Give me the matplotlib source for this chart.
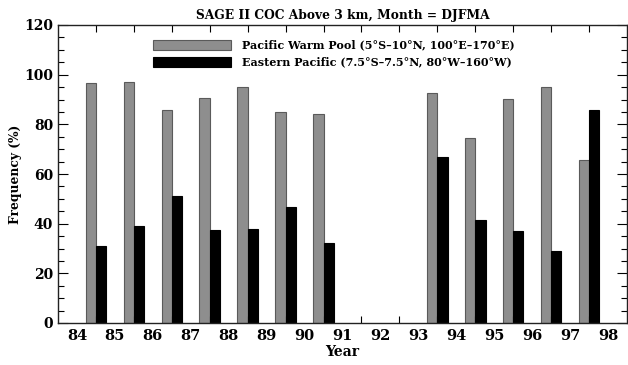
import matplotlib
matplotlib.use("Agg")
import matplotlib.pyplot as plt
import numpy as np
from matplotlib.ticker import MultipleLocator, FixedLocator

years = [84, 85, 86, 87, 88, 89, 90, 93, 94, 95, 96, 97]
warm_pool = [96.6, 97.0, 85.6, 90.7, 94.9, 84.8, 84.0, 92.5, 74.5, 90.1, 95.0, 65.8]
eastern = [31.1, 39.2, 51.1, 37.6, 38.0, 46.6, 32.3, 66.7, 41.3, 37.0, 29.0, 85.9]
tick_years = list(range(84, 99))
label_warm = "Pacific Warm Pool (5°S–10°N, 100°E–170°E)"
label_east = "Eastern Pacific (7.5°S–7.5°N, 80°W–160°W)"
title = "SAGE II COC Above 3 km, Month = DJFMA"

plt.rcParams['font.family'] = ['DejaVu Serif']
plt.rcParams['font.weight'] = 'bold'

W, H = 628, 365
fig = plt.figure(figsize=(W / 100, H / 100), dpi=100)
ax = fig.add_axes([58 / W, 1 - 323 / H, (627 - 58) / W, (323 - 25) / H])

w = 0.27
x = np.array(years) + 0.5
ax.bar(x - w / 2, warm_pool, width=w, color='#8e8e8e', edgecolor='#5a5a5a', linewidth=0.8, label=label_warm)
ax.bar(x + w / 2, eastern, width=w, color='black', edgecolor='black', linewidth=0.8, label=label_east)

ax.set_xlim(83.5, 98.5)
ax.set_ylim(0, 120)

# x: labels at integer years, ticks at half years
ax.set_xticks(tick_years)
ax.set_xticklabels([str(t) for t in tick_years], fontsize=10.5, fontweight='bold')
ax.tick_params(axis='x', which='major', length=0, pad=4)
ax.xaxis.set_minor_locator(FixedLocator([t + 0.5 for t in tick_years[:-1]]))
ax.tick_params(axis='x', which='minor', direction='in', length=5, top=True, bottom=True, width=0.8)

ax.yaxis.set_major_locator(MultipleLocator(20))
ax.yaxis.set_minor_locator(MultipleLocator(5))
ax.tick_params(axis='y', which='major', direction='in', length=7, left=True, right=True, labelsize=10, width=0.8)
ax.tick_params(axis='y', which='minor', direction='in', length=4, left=True, right=True, width=0.8)
for lbl in ax.get_yticklabels():
    lbl.set_fontweight('bold')

for s in ax.spines.values():
    s.set_linewidth(1.0)
    s.set_color('#222222')

ax.set_xlabel("Year", fontsize=10, fontweight='bold', labelpad=2)
ax.set_ylabel("Frequency (%)", fontsize=8.8, fontweight='bold')
ax.yaxis.set_label_coords(-0.063, 0.5)
ax.set_title(title, fontsize=8.8, fontweight='bold', pad=4)

leg = ax.legend(loc='upper left', bbox_to_anchor=(0.15, 0.985), frameon=False,
                fontsize=8.0, handlelength=7.0, handleheight=1.0, handletextpad=1.0,
                labelspacing=0.55)
for t in leg.get_texts():
    t.set_fontweight('bold')

fig.savefig("out.png", dpi=100)
